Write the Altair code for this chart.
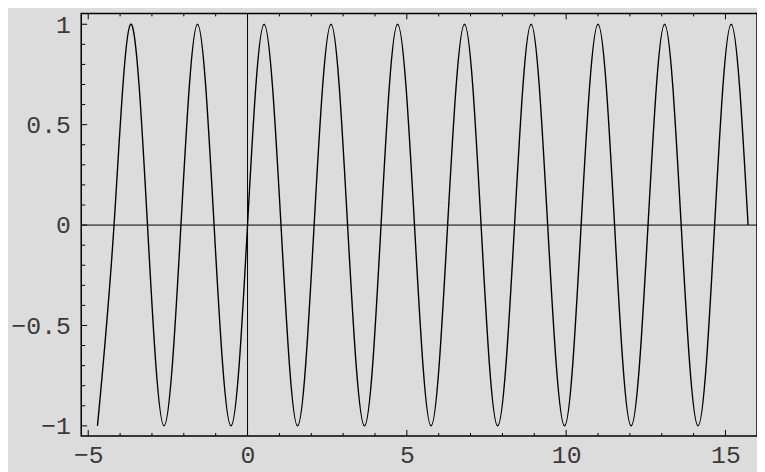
import altair as alt
import pandas as pd

# curve samples (zeros and extrema)
x_vals = [-4.71, -4.19, -3.67, -3.14, -2.62, -2.09, -1.57, -1.05, -0.52, 0.00,
          0.52, 1.05, 1.57, 2.09, 2.62, 3.14, 3.67, 4.19, 4.71, 5.24,
          5.76, 6.28, 6.81, 7.33, 7.85, 8.38, 8.90, 9.42, 9.95, 10.47,
          11.00, 11.52, 12.04, 12.57, 13.09, 13.61, 14.14, 14.66, 15.18, 15.71]
y_vals = [-1, 0, 1, 0, -1, 0, 1, 0, -1, 0,
          1, 0, -1, 0, 1, 0, -1, 0, 1, 0,
          -1, 0, 1, 0, -1, 0, 1, 0, -1, 0,
          1, 0, -1, 0, 1, 0, -1, 0, 1, 0]

x_major = [-5, 0, 5, 10, 15]
x_minor = [-4, -3, -2, -1, 1, 2, 3, 4, 6, 7, 8, 9, 11, 12, 13, 14]
y_major = [-1, -0.5, 0, 0.5, 1]
y_minor = [-0.9, -0.8, -0.7, -0.6, -0.4, -0.3, -0.2, -0.1,
           0.1, 0.2, 0.3, 0.4, 0.6, 0.7, 0.8, 0.9]

W, H = 683, 427
XDOM = [-5.22, 15.99]
YDOM = [-1.05, 1.054]
FONT = "Liberation Mono"

xs = alt.Scale(domain=XDOM, nice=False, zero=False)
ys = alt.Scale(domain=YDOM, nice=False, zero=False)

curve_df = pd.DataFrame({"x": x_vals, "y": y_vals})

curve = alt.Chart(curve_df).mark_line(
    interpolate="natural", color="black", strokeWidth=1.4, clip=True
).encode(
    x=alt.X("x:Q", scale=xs, axis=alt.Axis(
        values=x_major, format="d", grid=False, domain=False, ticks=False,
        tickSize=0, labelFont=FONT, labelFontSize=25, labelColor="#3a3a3a",
        labelBaseline="alphabetic", labelPadding=27, labelFlush=False, title=None)),
    y=alt.Y("y:Q", scale=ys, axis=alt.Axis(
        values=y_major, format="~g", grid=False, domain=False, ticks=False,
        tickSize=0, labelFont=FONT, labelFontSize=25, labelColor="#3a3a3a",
        labelBaseline="middle", labelPadding=11, title=None)),
)

zero_df = pd.DataFrame({"v": [0]})
hline = alt.Chart(zero_df).mark_rule(color="black", strokeWidth=1).encode(
    y=alt.Y("v:Q", scale=ys))
vline = alt.Chart(zero_df).mark_rule(color="black", strokeWidth=1).encode(
    x=alt.X("v:Q", scale=xs))

def xticks(vals, length):
    df = pd.DataFrame({"t": vals})
    bot = alt.Chart(df).mark_rule(color="black", strokeWidth=1).encode(
        x=alt.X("t:Q", scale=xs), y=alt.value(H), y2=alt.value(H - length))
    top = alt.Chart(df).mark_rule(color="black", strokeWidth=1).encode(
        x=alt.X("t:Q", scale=xs), y=alt.value(0), y2=alt.value(length))
    return bot + top

def yticks(vals, length):
    df = pd.DataFrame({"t": vals})
    return alt.Chart(df).mark_rule(color="black", strokeWidth=1).encode(
        y=alt.Y("t:Q", scale=ys), x=alt.value(0), x2=alt.value(length))

chart = alt.layer(
    hline, vline, curve,
    xticks(x_major, 6), xticks(x_minor, 3),
    yticks(y_major, 6), yticks(y_minor, 4),
).properties(
    width=W, height=H,
    autosize=alt.AutoSizeParams(type="none"),
    padding={"left": 74, "top": 3, "right": 0, "bottom": 34},
    background="#dcdcdc",
).configure_view(
    stroke="black", strokeWidth=1.5
)

chart.save("out.html", embed_options={"renderer": "svg", "actions": False})
